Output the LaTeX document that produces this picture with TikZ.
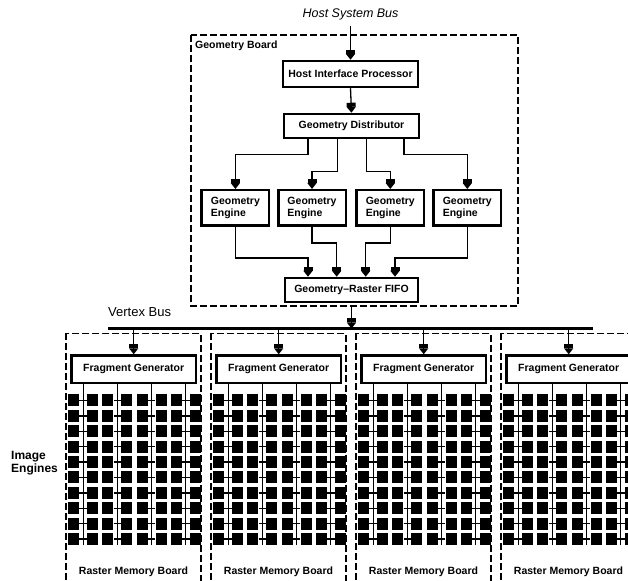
\documentclass[tikz,border=0pt]{standalone}
\usepackage{fontspec}
\setmainfont{Liberation Sans}
\usetikzlibrary{arrows.meta}

\begin{document}
\begin{tikzpicture}[x=1pt, y=1pt,
	every node/.style={font=\fontsize{10.5}{12}\selectfont\bfseries},
	box/.style={draw, line width=2.5pt, minimum width=135pt, minimum height=26pt, inner sep=2pt},
	gebox/.style={draw, line width=2.5pt, minimum width=67.5pt, minimum height=35.5pt, align=left, inner sep=2pt, font=\fontsize{10.5}{12}\selectfont\bfseries},
	arr/.style={line width=1.3pt, -{Rectangle[length=4pt,width=9pt]Triangle[length=6pt,width=9pt]}},
	wire/.style={line width=1.3pt},
	board/.style={line width=1.3pt, dash pattern=on 7pt off 3pt},
	eng/.style={fill, inner sep=0pt, minimum width=11pt, minimum height=12pt}]
	\useasboundingbox (0,0) rectangle (628,580);
	\clip (0,0) rectangle (628,580);
	% geometry board
	\node[font=\fontsize{12.5}{14}\selectfont\itshape] (hsb) at (350.5,566) {Host System Bus};
	\draw[board] (191,545) rectangle (518,274);
	\node[anchor=west, inner sep=0pt] (gb) at (195,534) {Geometry Board};
	\node[box] (hip) at (350.5,506) {Host Interface Processor};
	\node[box, minimum height=24pt] (gd) at (351.5,454) {Geometry Distributor};
	\node[gebox] (ge1) at (235.4,372) {Geometry\\Engine};
	\node[gebox] (ge2) at (312,372) {Geometry\\Engine};
	\node[gebox] (ge3) at (390.3,372) {Geometry\\Engine};
	\node[gebox] (ge4) at (467.3,372) {Geometry\\Engine};
	\node[box, minimum width=133pt, minimum height=24pt] (fifo) at (351.5,290) {Geometry--Raster FIFO};
	\draw[arr] ([yshift=-3pt]hsb.south) -- (hip.north);
	\draw[arr] (hip.south) -- (gd.north);
	\draw[arr] ([xshift=-43.5pt]gd.south) -- ++(0,-15) -| (ge1.north);
	\draw[arr] ([xshift=-14pt]gd.south) -- ++(0,-32) -| (ge2.north);
	\draw[arr] ([xshift=15pt]gd.south) -- ++(0,-32) -| (ge3.north);
	\draw[arr] ([xshift=52.5pt]gd.south) -- ++(0,-15) -| (ge4.north);
	\draw[arr] (ge1.south) -- ++(0,-31) -| ([xshift=-43.5pt]fifo.north);
	\draw[arr] (ge2.south) -- ++(0,-16) -| ([xshift=-14.8pt]fifo.north);
	\draw[arr] (ge3.south) -- ++(0,-16) -| ([xshift=14.2pt]fifo.north);
	\draw[arr] (ge4.south) -- ++(0,-31) -| ([xshift=43.5pt]fifo.north);
	% vertex bus
	\coordinate (busL) at (108,251.5);
	\coordinate (busR) at (593,251.5);
	\draw[line width=3.5pt] (busL) -- (busR);
	\node[anchor=west, inner sep=0pt, font=\fontsize{13}{14}\selectfont] (vb) at (108,267.5) {Vertex Bus};
	\draw[arr, shorten <=1.75pt] (fifo.south) -- (fifo.south |- busL);
	\node[anchor=west, align=left, inner sep=0pt, font=\fontsize{12}{12.5}\selectfont\bfseries] (ie) at (11,117) {Image\\Engines};
	% raster memory boards
	\foreach \b in {0,...,3} {
		\begin{scope}[xshift=145*\b]
			\draw[board] (66,246.7) rectangle (201,-20);
			\node[box, minimum width=124.5pt, minimum height=27.5pt] (fg\b) at (67.7+66,210.7) {Fragment Generator};
			\draw[arr, shorten <=1.75pt] (fg\b.north |- busL) -- (fg\b.north);
			\node (rmb\b) at (133.5,8) {Raster Memory Board};
			\foreach \j in {0,...,3} {
				\coordinate (v\b-\j) at ({66+17.2+34.2*\j},35);
				\draw[wire] (fg\b.south -| v\b-\j) -- (v\b-\j);
				\foreach \i in {0,...,9} {
					\node[eng] (l\b-\j-\i) at ({66+17.2+34.2*\j-9.5},{179.5-15.4*\i}) {};
					\node[eng] (r\b-\j-\i) at ({66+17.2+34.2*\j+9.5},{179.5-15.4*\i}) {};
					\draw[wire] (l\b-\j-\i) -- (r\b-\j-\i);
				}
			}
		\end{scope}
	}
\end{tikzpicture}
\end{document}
